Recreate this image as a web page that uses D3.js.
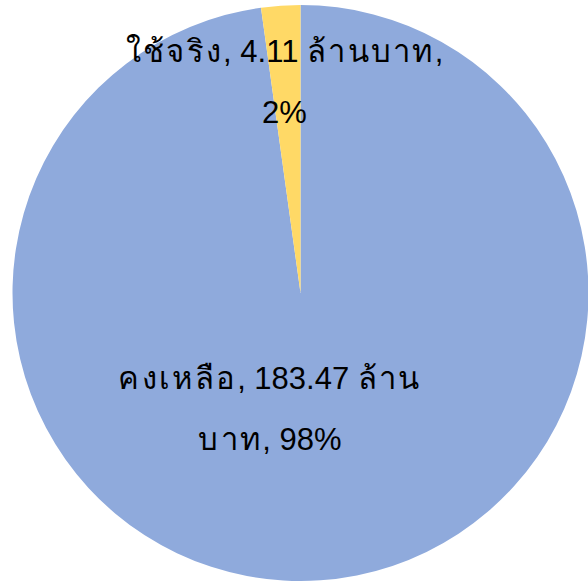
<!DOCTYPE html>
<html>
<head>
<meta charset="utf-8">
<script src="https://cdn.jsdelivr.net/npm/d3@7"></script>
<style>
  html, body { margin: 0; padding: 0; background: #fff; }
  svg { display: block; }
  .pie-label { font-family: "Liberation Sans", Arial, "Noto Sans", sans-serif; font-size: 31px; fill: #000; }
  .thai { letter-spacing: 2.3px; }
</style>
</head>
<body>
<svg id="chart" width="588" height="582"></svg>
<script>
// data
const categories = ['คงเหลือ', 'ใช้จริง'];
const values = [183.47, 4.11];
const unit = 'ล้านบาท';
const colors = ['#8FAADC', '#FFD966'];
// where each label wraps onto a second line (character index in the full label)
const labelBreaks = ['คงเหลือ, 183.47 ล้าน'.length, 'ใช้จริง, 4.11 ล้านบาท,'.length];

const WIDTH = 588, HEIGHT = 582;
const CX = 300.5, CY = 293, RADIUS = 288;
const LINE_GAP = 61;
// label placement: fraction of radius along the slice's middle angle, plus a nudge
const labelPos = [{r: 0.404, dx: -38.5}, {r: 0.731, dx: -1.5}];

const total = d3.sum(values);
const rows = categories.map((c, i) => ({
    category: c,
    value: values[i],
    pct: Math.round(values[i] / total * 100),
    color: colors[i],
    idx: i
}));

const pie = d3.pie()
    .sort(null)
    .value(d => d.value);

const arc = d3.arc()
    .innerRadius(0)
    .outerRadius(RADIUS);

const svg = d3.select('#chart');
const g = svg.append('g')
    .attr('transform', `translate(${CX}, ${CY})`);

const arcs = pie(rows);

g.selectAll('path')
    .data(arcs)
    .join('path')
    .attr('d', arc)
    .attr('fill', d => d.data.color);

// labels
const labels = g.selectAll('text')
    .data(arcs)
    .join('text')
    .attr('class', 'pie-label')
    .attr('text-anchor', 'middle')
    .attr('transform', d => {
        const p = labelPos[d.data.idx];
        const la = d3.arc().innerRadius(RADIUS * p.r).outerRadius(RADIUS * p.r);
        const [x, y] = la.centroid(d);
        return `translate(${x + p.dx}, ${y})`;
    });

const thaiRun = /([\u0E00-\u0E7F]+)/;

labels.each(function (d) {
    const full = `${d.data.category}, ${d.data.value} ${unit}, ${d.data.pct}%`;
    const cut = labelBreaks[d.data.idx];
    const lines = [full.slice(0, cut).trim(), full.slice(cut).trim()];
    const lineSel = d3.select(this).selectAll('tspan.line')
        .data(lines)
        .join('tspan')
        .attr('class', 'line')
        .attr('x', 0)
        .attr('y', (l, i) => (i - (lines.length - 1) / 2) * LINE_GAP + 10);
    // the Thai runs are a bit wider in the original font
    lineSel.selectAll('tspan')
        .data(l => l.split(thaiRun).filter(s => s.length))
        .join('tspan')
        .attr('class', s => thaiRun.test(s) ? 'thai' : null)
        .text(s => s);
});
</script>
</body>
</html>
